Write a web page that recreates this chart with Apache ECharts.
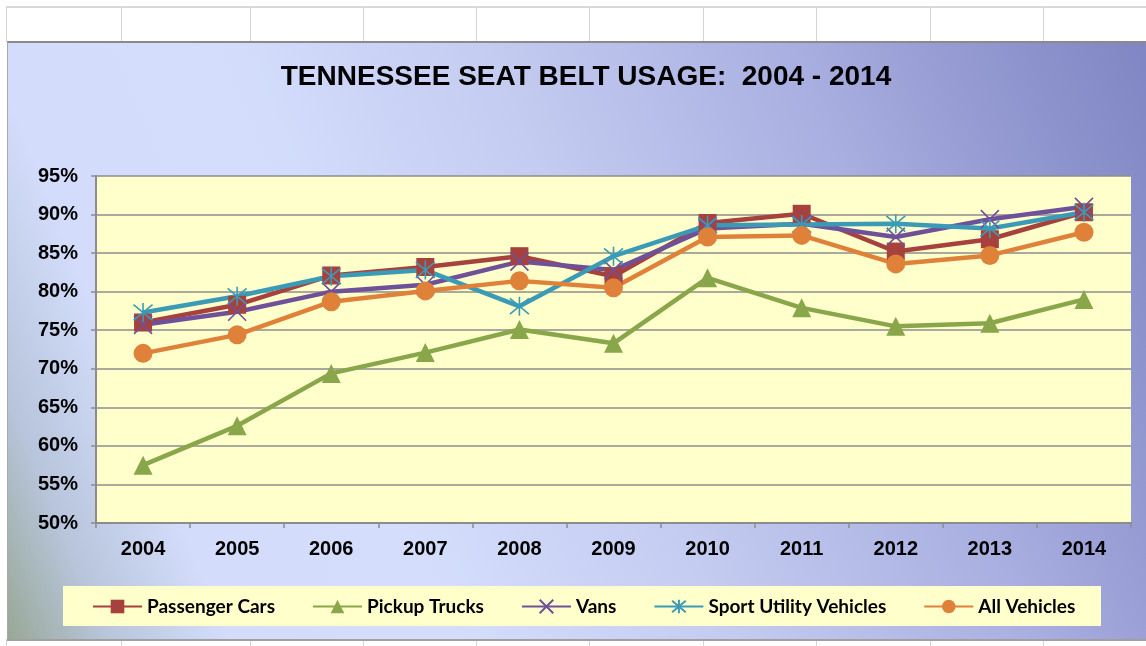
<!DOCTYPE html>
<html>
<head>
<meta charset="UTF-8">
<title>Tennessee Seat Belt Usage</title>
<script src="https://cdn.jsdelivr.net/npm/echarts@6/dist/echarts.min.js"></script>
<style>
  body { margin: 0; background: #fff; overflow: hidden; }
  #sheet { position: absolute; left: 0; top: 0; width: 1146px; height: 646px; }
  .vline { position: absolute; width: 1px; background: #d4d4d4; }
  .hline { position: absolute; height: 2px; background: #d8d8d8; }
  #frame {
    position: absolute; left: 7px; top: 41px; width: 1139px; height: 596px;
    border-top: 2px solid #8a8a8a; border-left: 1px solid #a9a9a9; border-bottom: 2px solid #a0a0a0;
    background: linear-gradient(68deg, #97a895 0%, #b7c4da 7%, #d3ddfb 16%, #d4defc 32%, #c4ccf1 52%, #a9afe0 74%, #8e94cd 90%, #7f86c3 100%);
  }
  #main { position: absolute; left: 0; top: 0; width: 1146px; height: 646px; }
</style>
</head>
<body>
<div id="sheet"></div>
<div id="frame"></div>
<div id="main"></div>
<script>
  // data (percent)
  var years = ['2004', '2005', '2006', '2007', '2008', '2009', '2010', '2011', '2012', '2013', '2014'];
  var passengerCars = [76.0, 78.3, 82.1, 83.2, 84.6, 82.0, 88.9, 90.1, 85.2, 86.8, 90.3];
  var pickupTrucks  = [57.5, 62.6, 69.4, 72.1, 75.1, 73.3, 81.8, 77.9, 75.5, 75.9, 79.0];
  var vans          = [75.7, 77.4, 80.0, 80.9, 83.9, 82.8, 88.2, 88.8, 87.1, 89.4, 91.0];
  var suvs          = [77.3, 79.4, 82.0, 82.8, 78.1, 84.6, 88.6, 88.7, 88.8, 88.2, 90.3];
  var allVehicles   = [72.0, 74.4, 78.7, 80.1, 81.4, 80.5, 87.1, 87.3, 83.6, 84.7, 87.7];

  // spreadsheet cell lines around the embedded chart
  var cellX = [6, 121, 250, 363, 476, 589, 703, 816, 930, 1043];
  var sheet = document.getElementById('sheet');
  var h = document.createElement('div');
  h.className = 'hline';
  h.style.cssText = 'left:6px;top:6px;width:1140px;';
  sheet.appendChild(h);
  cellX.forEach(function (x) {
    var a = document.createElement('div');
    a.className = 'vline';
    a.style.cssText = 'left:' + x + 'px;top:7px;height:35px;';
    sheet.appendChild(a);
    var b = document.createElement('div');
    b.className = 'vline';
    b.style.cssText = 'left:' + x + 'px;top:639px;height:7px;';
    sheet.appendChild(b);
  });

  var axisFont = '"Liberation Sans", Arial, sans-serif';
  var crossPath = 'path://M0,0L20,20M20,0L0,20';
  var starPath = 'path://M0,0L20,20M20,0L0,20M10,-2L10,22';

  function lineSeries(name, data, color, symbol, size, stroked) {
    return {
      name: name,
      type: 'line',
      data: data,
      symbol: symbol,
      symbolSize: size,
      lineStyle: { width: 4.5, color: color },
      itemStyle: stroked ? { color: color, borderColor: color, borderWidth: 1.6 } : { color: color, borderWidth: 0 },
      emphasis: { disabled: true }
    };
  }

  var option = {
    animation: false,
    backgroundColor: 'transparent',
    title: {
      text: 'TENNESSEE SEAT BELT USAGE:  2004 - 2014',
      left: 581,
      top: 58,
      textAlign: 'center',
      textStyle: { fontFamily: axisFont, fontWeight: 'bold', fontSize: 28, color: '#000' }
    },
    graphic: [{
      type: 'rect',
      shape: { x: 63, y: 586, width: 1038, height: 40 },
      style: { fill: '#ffffcc' },
      z: -1
    }],
    legend: {
      left: 87,
      top: 592,
      itemWidth: 49,
      itemHeight: 17,
      itemGap: 37,
      textStyle: { fontFamily: 'Lato, "Open Sans", sans-serif', fontWeight: 'bold', fontSize: 19, color: '#000' },
      data: ['Passenger Cars', 'Pickup Trucks', 'Vans', 'Sport Utility Vehicles', 'All Vehicles']
    },
    grid: {
      left: 96, top: 176, right: 15, bottom: 123,
      show: true, backgroundColor: '#ffffcc', borderWidth: 0
    },
    xAxis: {
      type: 'category',
      data: years,
      axisLine: { lineStyle: { color: '#8c8c8c', width: 2 } },
      axisTick: { show: true, length: 5, lineStyle: { color: '#8c8c8c', width: 1.5 } },
      axisLabel: { margin: 16, fontFamily: axisFont, fontWeight: 'bold', fontSize: 20, color: '#000' }
    },
    yAxis: {
      type: 'value',
      min: 50,
      max: 95,
      interval: 5,
      axisLine: { show: true, lineStyle: { color: '#8c8c8c', width: 2 } },
      axisTick: { show: true, length: 5, lineStyle: { color: '#8c8c8c', width: 1.5 } },
      splitLine: { lineStyle: { color: '#8c8c8c', width: 1.5 } },
      axisLabel: { margin: 18, formatter: '{value}%', fontFamily: axisFont, fontWeight: 'bold', fontSize: 20, color: '#000' }
    },
    series: [
      lineSeries('Passenger Cars', passengerCars, '#a6413d', 'rect', 18, false),
      lineSeries('Pickup Trucks', pickupTrucks, '#89a64a', 'triangle', 19, false),
      lineSeries('Vans', vans, '#6f519a', crossPath, 18, true),
      lineSeries('Sport Utility Vehicles', suvs, '#3b9bb7', starPath, 19, true),
      lineSeries('All Vehicles', allVehicles, '#e0813a', 'circle', 19, false)
    ]
  };

  var myChart = echarts.init(document.getElementById('main'));
  myChart.setOption(option);
</script>
</body>
</html>
